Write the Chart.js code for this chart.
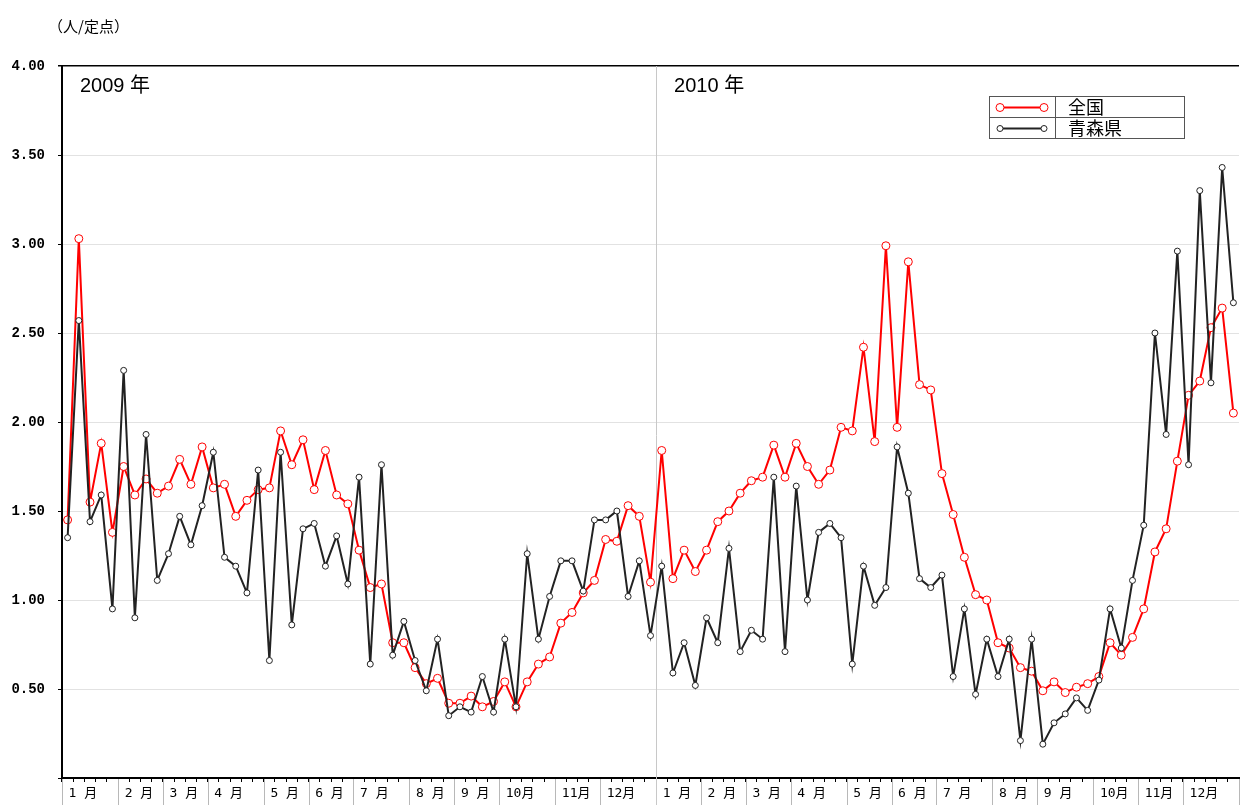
<!DOCTYPE html>
<html>
<head>
<meta charset="utf-8">
<script src="https://cdn.jsdelivr.net/npm/chart.js@4/dist/chart.umd.min.js"></script>
<style>
  html, body { margin: 0; padding: 0; background: #fff; }
  #wrap { width: 1244px; height: 805px; }
</style>
</head>
<body>
<div id="wrap"><canvas id="chart" width="1244" height="805"></canvas></div>
<script>
// month labels and number of weeks in each month
var monthNames = ['1 月', '2 月', '3 月', '4 月', '5 月', '6 月', '7 月', '8 月', '9 月', '10月', '11月', '12月'];
var weeks2009 = [5, 4, 4, 5, 4, 4, 5, 4, 4, 5, 4, 5];
var weeks2010 = [4, 4, 4, 5, 4, 4, 5, 4, 5, 4, 4, 5];
var yearNames = ['2009 年', '2010 年'];
var unitLabel = '（人/定点）';

// 全国 (weekly, 2009 w1 .. 2010 w52)
var zenkoku = [
  1.45, 3.03, 1.55, 1.88, 1.38, 1.75, 1.59, 1.68, 1.60, 1.64, 1.79, 1.65, 1.86, 1.63, 1.65, 1.47, 1.56, 1.62,
  1.63, 1.95, 1.76, 1.90, 1.62, 1.84, 1.59, 1.54, 1.28, 1.07, 1.09, 0.76, 0.76, 0.62, 0.53, 0.56, 0.42, 0.42,
  0.46, 0.40, 0.43, 0.54, 0.40, 0.54, 0.64, 0.68, 0.87, 0.93, 1.04, 1.11, 1.34, 1.33, 1.53, 1.47, 1.10,
  1.84, 1.12, 1.28, 1.16, 1.28, 1.44, 1.50, 1.60, 1.67, 1.69, 1.87, 1.69, 1.88, 1.75, 1.65, 1.73, 1.97, 1.95,
  2.42, 1.89, 2.99, 1.97, 2.90, 2.21, 2.18, 1.71, 1.48, 1.24, 1.03, 1.00, 0.76, 0.73, 0.62, 0.60, 0.49, 0.54,
  0.48, 0.51, 0.53, 0.57, 0.76, 0.69, 0.79, 0.95, 1.27, 1.40, 1.78, 2.15, 2.23, 2.53, 2.64, 2.05
];

// 青森県
var aomori = [
  1.35, 2.57, 1.44, 1.59, 0.95, 2.29, 0.90, 1.93, 1.11, 1.26, 1.47, 1.31, 1.53, 1.83, 1.24, 1.19, 1.04, 1.73,
  0.66, 1.83, 0.86, 1.40, 1.43, 1.19, 1.36, 1.09, 1.69, 0.64, 1.76, 0.69, 0.88, 0.66, 0.49, 0.78, 0.35, 0.40,
  0.37, 0.57, 0.37, 0.78, 0.40, 1.26, 0.78, 1.02, 1.22, 1.22, 1.05, 1.45, 1.45, 1.50, 1.02, 1.22, 0.80,
  1.19, 0.59, 0.76, 0.52, 0.90, 0.76, 1.29, 0.71, 0.83, 0.78, 1.69, 0.71, 1.64, 1.00, 1.38, 1.43, 1.35, 0.64,
  1.19, 0.97, 1.07, 1.86, 1.60, 1.12, 1.07, 1.14, 0.57, 0.95, 0.47, 0.78, 0.57, 0.78, 0.21, 0.78, 0.19, 0.31,
  0.36, 0.45, 0.38, 0.55, 0.95, 0.73, 1.11, 1.42, 2.50, 1.93, 2.96, 1.76, 3.30, 2.22, 3.43, 2.67
];

// build week labels: month name on first week of each month
var labels = [];
var monthStarts = [];
var yearStarts = [];
[weeks2009, weeks2010].forEach(function (weeks) {
  yearStarts.push(labels.length);
  weeks.forEach(function (n, m) {
    monthStarts.push(labels.length);
    labels.push(monthNames[m]);
    for (var k = 1; k < n; k++) labels.push('');
  });
});
monthStarts.push(labels.length);

var tickFont = { family: '"DejaVu Sans Mono", "Noto Sans CJK JP"', size: 13 };

var extras = {
  id: 'extras',
  beforeDatasetsDraw: function (chart) {
    var ctx = chart.ctx, xs = chart.scales.x, area = chart.chartArea;
    var half = (xs.getPixelForValue(1) - xs.getPixelForValue(0)) / 2;
    ctx.save();
    // month separators in the label band
    ctx.strokeStyle = '#b8b8b8';
    ctx.lineWidth = 1;
    monthStarts.forEach(function (k) {
      var x = Math.round(xs.getPixelForValue(k) - half) + 0.5;
      ctx.beginPath();
      ctx.moveTo(x, area.bottom + 1);
      ctx.lineTo(x, chart.height);
      ctx.stroke();
    });
    // year divider
    ctx.strokeStyle = '#c8c8c8';
    yearStarts.slice(1).forEach(function (k) {
      var x = Math.round(xs.getPixelForValue(k) - half) + 0.5;
      ctx.beginPath();
      ctx.moveTo(x, area.top);
      ctx.lineTo(x, chart.height);
      ctx.stroke();
    });
    ctx.restore();
  },
  afterDraw: function (chart) {
    var ctx = chart.ctx, xs = chart.scales.x, area = chart.chartArea;
    var half = (xs.getPixelForValue(1) - xs.getPixelForValue(0)) / 2;
    ctx.save();
    // unit label
    ctx.fillStyle = '#000';
    ctx.font = '15px "Noto Sans CJK JP"';
    ctx.textBaseline = 'middle';
    ctx.textAlign = 'left';
    ctx.fillText(unitLabel, 48, 26);
    // year labels
    ctx.font = '20px "Liberation Sans Narrow", "Liberation Sans", "Noto Sans CJK JP"';
    yearStarts.forEach(function (k, i) {
      var x = xs.getPixelForValue(k) - half + 18;
      ctx.fillText(yearNames[i], x, area.top + 20);
    });
    // legend table
    var lx = area.right - 250, ly = area.top + 30, lw = 195, rh = 21, split = 66;
    ctx.strokeStyle = '#555';
    ctx.lineWidth = 1;
    ctx.strokeRect(lx + 0.5, ly + 0.5, lw, rh * 2);
    ctx.beginPath();
    ctx.moveTo(lx, ly + rh + 0.5); ctx.lineTo(lx + lw, ly + rh + 0.5);
    ctx.moveTo(lx + split + 0.5, ly); ctx.lineTo(lx + split + 0.5, ly + rh * 2);
    ctx.stroke();
    ctx.font = '18px "Noto Sans CJK JP"';
    chart.data.datasets.forEach(function (ds, i) {
      var cy = ly + rh * i + rh / 2 + 1;
      ctx.strokeStyle = ds.borderColor;
      ctx.lineWidth = ds.borderWidth;
      ctx.beginPath();
      ctx.moveTo(lx + 11, cy); ctx.lineTo(lx + 55, cy);
      ctx.stroke();
      ctx.lineWidth = 1;
      ctx.fillStyle = '#fff';
      [lx + 11, lx + 55].forEach(function (px) {
        ctx.beginPath();
        ctx.arc(px, cy, ds.pointRadius, 0, Math.PI * 2);
        ctx.fill();
        ctx.stroke();
      });
      ctx.fillStyle = '#000';
      ctx.fillText(ds.label, lx + split + 13, cy);
    });
    ctx.restore();
  }
};

new Chart(document.getElementById('chart'), {
  type: 'line',
  data: {
    labels: labels,
    datasets: [{
      label: '全国',
      data: zenkoku,
      borderColor: '#ff0000',
      borderWidth: 2,
      pointRadius: 4,
      pointBorderWidth: 1,
      pointBackgroundColor: '#ffffff',
      pointBorderColor: '#ff0000',
      tension: 0,
      order: 2
    }, {
      label: '青森県',
      data: aomori,
      borderColor: '#222222',
      borderWidth: 2,
      pointRadius: 3,
      pointBorderWidth: 1,
      pointBackgroundColor: '#ffffff',
      pointBorderColor: '#222222',
      tension: 0,
      order: 1
    }]
  },
  options: {
    responsive: false,
    animation: false,
    layout: { padding: { top: 66, right: 3, left: 0, bottom: 0 } },
    plugins: {
      legend: { display: false },
      tooltip: { enabled: false }
    },
    scales: {
      x: {
        type: 'category',
        offset: true,
        afterFit: function (s) { s.height = 27; },
        border: { display: true, color: '#000', width: 2 },
        grid: { offset: true, drawOnChartArea: false, tickLength: 4, color: '#000', tickColor: '#000' },
        ticks: {
          autoSkip: false, maxRotation: 0, minRotation: 0, align: 'start',
          labelOffset: 1, padding: 4, color: '#000', font: tickFont
        }
      },
      y: {
        min: 0,
        max: 4,
        afterFit: function (s) { s.width = 62; },
        border: { display: true, color: '#000', width: 2 },
        grid: {
          tickLength: 4,
          tickColor: '#000',
          color: function (c) { return c.tick && c.tick.value === 4 ? '#000' : '#e2e2e2'; },
          lineWidth: function (c) { return c.tick && c.tick.value === 4 ? 1.5 : 1; }
        },
        ticks: {
          stepSize: 0.5,
          padding: 13,
          color: '#000',
          font: { family: '"Liberation Mono", "DejaVu Sans Mono"', size: 14, weight: 'bold' },
          callback: function (v) { return v === 0 ? '' : v.toFixed(2); }
        }
      }
    }
  },
  plugins: [extras]
});
</script>
</body>
</html>
